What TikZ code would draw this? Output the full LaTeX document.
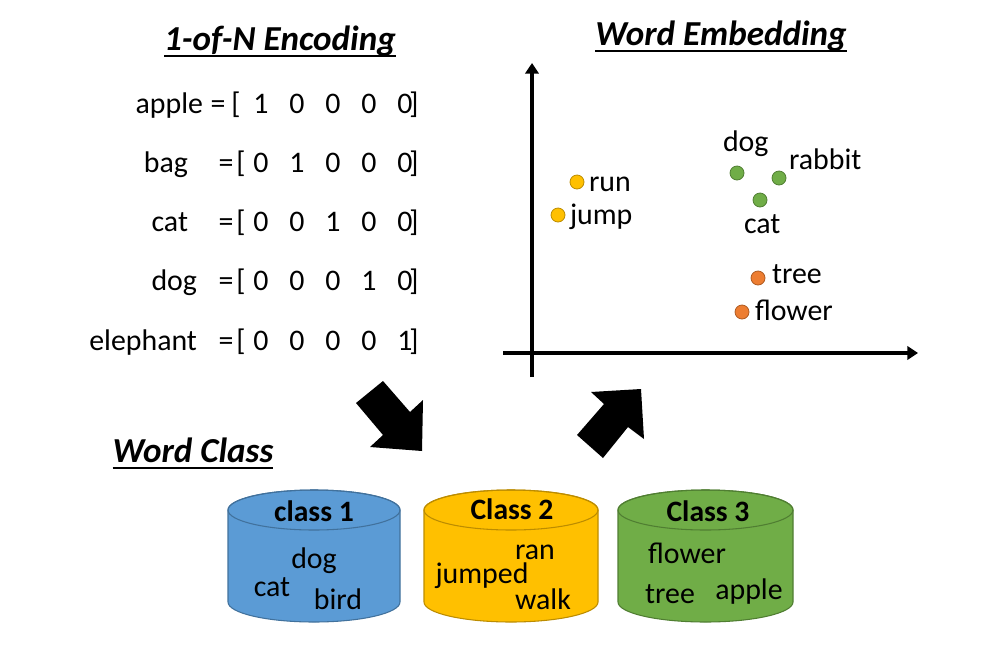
\documentclass[tikz,border=0pt]{standalone}
\usepackage{fontspec}
\setmainfont{Carlito}
\usetikzlibrary{arrows.meta}
\definecolor{cblue}{HTML}{5B9BD5}
\definecolor{cblueD}{HTML}{41719C}
\definecolor{cyel}{HTML}{FFC000}
\definecolor{cyelD}{HTML}{BC8C00}
\definecolor{cgrn}{HTML}{70AD47}
\definecolor{cgrnD}{HTML}{507E32}
\definecolor{corg}{HTML}{ED7D31}
\definecolor{corgD}{HTML}{AE5A21}
\newcommand\mycyl[4]{%
  \filldraw[fill=#3, draw=#4, line width=0.8pt]
    ({#1-#2},510) -- ({#1-#2},602)
    arc[start angle=180, end angle=360, x radius={#2*0.75pt}, y radius=15pt]
    -- ({#1+#2},510)
    arc[start angle=0, end angle=180, x radius={#2*0.75pt}, y radius=15pt] -- cycle;
  \draw[draw=#4, line width=0.8pt] (#1,510) ellipse [x radius={#2*0.75pt}, y radius=15pt];
}
\begin{document}
\begin{tikzpicture}[x=0.75pt,y=-0.75pt,
  every node/.style={inner sep=0pt, outer sep=0pt},
  txt/.style={font=\fontsize{22.4}{26}\selectfont, text=black},
  ttl/.style={font=\fontsize{26.3}{30}\selectfont\bfseries\itshape, anchor=base},
  lbl/.style={font=\fontsize{22.2}{26}\selectfont\bfseries, anchor=base},
  uline/.style={line width=1.6pt},
  axis/.style={line width=2.3pt, -{Triangle[length=8pt,width=10pt]}},
  dot/.style={circle, minimum size=10.5pt, line width=0.6pt}]
\useasboundingbox (0,0) rectangle (996,647);

% titles
\node[ttl] (t1) at (280,50) {1-of-N Encoding};
\draw[uline] ([yshift=-4.5pt]t1.base west) -- ([yshift=-4.5pt]t1.base east);
\node[ttl] (t2) at (721,45) {Word Embedding};
\draw[uline] ([yshift=-4.5pt]t2.base west) -- ([yshift=-4.5pt]t2.base east);
\node[ttl] (t3) at (193,462) {Word Class};
\draw[uline] ([yshift=-4.5pt]t3.base west) -- ([yshift=-4.5pt]t3.base east);

% 1-of-N rows
\foreach \w/\r/\b/\e/\k/\n in {apple/203/113/218/236/1, bag/188/172/226/241/2,
    cat/188/231/226/241/3, dog/197/290/226/241/4, elephant/197/350/226/241/5}{
  \node[txt, anchor=base east] (w\n) at (\r,\b) {\w};
  \node[txt, anchor=base] (e\n) at (\e,\b) {=};
  \node[txt, anchor=base] (k\n) at (\k,\b) {[};
  \foreach \x [count=\j] in {261,297,333,369,405}{
    \pgfmathtruncatemacro\dd{\j==\n ? 1 : 0}
    \node[txt, anchor=base] (d\n\j) at (\x,\b) {\dd};
  }
  \node[txt, anchor=base] (q\n) at (414,\b) {]};
}

% axes
\coordinate (xs) at (503,353);
\coordinate (xe) at (918,353);
\coordinate (ys) at (532,377);
\coordinate (ye) at (532,63);
\draw[axis] (xs) -- (xe);
\draw[axis] (ys) -- (ye);

% dots
\node[dot, fill=cyel, draw=cyelD] (prun) at (577,182) {};
\node[dot, fill=cyel, draw=cyelD] (pjump) at (558,215) {};
\node[dot, fill=cgrn, draw=cgrnD] (pdog) at (737,173) {};
\node[dot, fill=cgrn, draw=cgrnD] (prab) at (779,178) {};
\node[dot, fill=cgrn, draw=cgrnD] (pcat) at (760,200) {};
\node[dot, fill=corg, draw=corgD] (ptree) at (758,278) {};
\node[dot, fill=corg, draw=corgD] (pflow) at (742,312) {};
\node[txt, anchor=base west] (lrun) at (589,191) {run};
\node[txt, anchor=base west] (ljump) at (570,224) {jump};
\node[txt, anchor=base west] (ldog) at (723,151) {dog};
\node[txt, anchor=base west] (lrab) at (789,169) {rabbit};
\node[txt, anchor=base west] (lcat) at (744,233) {cat};
\node[txt, anchor=base west] (ltree) at (772,283) {tree};
\node[txt, anchor=base west] (lflow) at (755,320) {flower};

% block arrows
\fill[black] (356,403) -- (383,381) -- (410,412) -- (423,400) -- (422,451) -- (370,447) -- (383,435) -- cycle;
\fill[black] (641,389) -- (591,392) -- (604,404) -- (577,435) -- (603,458) -- (628,427) -- (644,439) -- cycle;

% cylinders
\mycyl{314}{86}{cblue}{cblueD}
\mycyl{511}{87}{cyel}{cyelD}
\mycyl{705.5}{87.5}{cgrn}{cgrnD}

\node[lbl] (c1) at (314,521) {class 1};
\node[txt, anchor=base] (c1a) at (314,568) {dog};
\node[txt, anchor=base] (c1b) at (272,596) {cat};
\node[txt, anchor=base] (c1c) at (338,609) {bird};

\node[lbl] (c2) at (512,519) {Class 2};
\node[txt, anchor=base] (c2a) at (535,559) {ran};
\node[txt, anchor=base] (c2b) at (482,583) {jumped};
\node[txt, anchor=base] (c2c) at (543,609) {walk};

\node[lbl] (c3) at (708,521) {Class 3};
\node[txt, anchor=base] (c3a) at (687,563) {flower};
\node[txt, anchor=base] (c3b) at (670,603) {tree};
\node[txt, anchor=base] (c3c) at (749,599) {apple};
\end{tikzpicture}
\end{document}
